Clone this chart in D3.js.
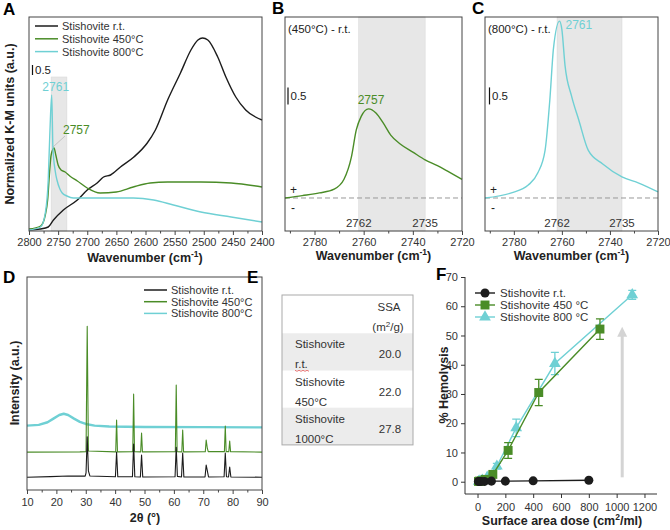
<!DOCTYPE html>
<html>
<head>
<meta charset="utf-8">
<script src="https://cdn.jsdelivr.net/npm/d3@7/dist/d3.min.js"></script>
<style>
  body { margin: 0; background: #fff; }
  svg text { font-family: "Liberation Sans", Arial, sans-serif; fill: #222; }
</style>
</head>
<body>
<svg id="fig" width="670" height="530"></svg>
<script>
// ---------- data ----------

// A: normalized K-M spectra, [wavenumber, a.u.]
var ftirRT = [[2800,0.05],[2781,0.1],[2767,0.2],[2758,0.55],[2741,1.05],[2717,1.55],[2700,2.05],[2683,2.4],[2672,2.7],[2660,2.8],[2643,3.2],[2620,3.7],[2597,4.4],[2583,5.05],[2562,6.55],[2540,7.9],[2522,9.05],[2510,9.55],[2502,9.65],[2493,9.55],[2476,8.7],[2462,7.7],[2445,6.7],[2428,6.05],[2400,5.55]];
var ftir450 = [[2800,0.1],[2780,0.25],[2772,0.8],[2768,1.55],[2765,2.8],[2762,3.8],[2757,4.15],[2754,3.8],[2750,3.3],[2745,3.05],[2738,2.95],[2730,2.75],[2717,2.5],[2700,2.15],[2678,1.9],[2650,1.95],[2621,2.2],[2592,2.4],[2562,2.45],[2505,2.45],[2453,2.4],[2400,2.2]];
var ftir800 = [[2800,0.05],[2780,0.2],[2772,0.9],[2767,2.55],[2764,5.05],[2761,6.8],[2759,4.2],[2755,3.0],[2752,2.55],[2747,2.1],[2743,1.9],[2735,1.75],[2724,1.65],[2700,1.65],[2621,1.65],[2586,1.55],[2552,1.3],[2505,0.95],[2453,0.7],[2400,0.45]];

// B, C: difference spectra, [wavenumber, a.u.]
var diff450 = [[2792,0],[2785,0.07],[2778,0.15],[2772,0.26],[2768,0.55],[2765,1.2],[2763,2.0],[2761,2.4],[2758,2.62],[2755,2.5],[2752,2.2],[2749,1.85],[2745,1.58],[2740,1.35],[2735,1.12],[2730,0.95],[2725,0.75],[2720,0.55]];
var diff800 = [[2792,0],[2781,0.15],[2774,0.38],[2770,0.74],[2767,1.4],[2765,2.9],[2763.5,4.4],[2761,5.2],[2760,4.95],[2758.7,3.9],[2756,3.0],[2753,2.3],[2749,1.4],[2743,1.0],[2735,0.62],[2728,0.44],[2720,0.18]];
var band = [2762, 2735];

// D: XRD patterns, [2theta, intensity a.u.]
var xrdRT = [[10,6.0],[18,6.3],[24,6.6],[29.8,6.5],[30.1,8],[30.5,25],[30.9,9],[31.4,6.6],[40.1,6.2],[40.5,17.8],[40.9,6.2],[45.9,6.2],[46.3,21.6],[46.7,6.2],[48.6,6.1],[49,16.4],[49.4,6.1],[60.4,6.2],[60.8,20.1],[61.2,6.4],[62.6,6.1],[63,17.4],[63.4,6.1],[70.6,6.1],[71,11.7],[71.4,9],[71.8,6.1],[77.1,6.2],[77.5,17.4],[77.9,6.2],[78.6,6.1],[79,10.8],[79.4,6.1],[90,6.0]];
var xrd450 = [[10,17.8],[28,17.9],[30.1,18],[30.5,76.9],[30.9,18.3],[40.2,17.9],[40.5,32.8],[40.8,17.9],[46,18],[46.3,45],[46.6,18],[48.7,17.9],[49,26.7],[49.3,17.9],[60.5,18],[60.8,49.3],[61.1,18],[62.7,17.9],[63,28.1],[63.3,17.9],[70.7,18],[71,23.4],[71.4,19.5],[71.7,18],[77.2,18],[77.5,30],[77.8,18],[78.7,18],[79,23],[79.3,18],[90,17.8]];
var xrd800 = [[10,30.2],[14,30.6],[17,31.8],[19,33.5],[21,35.2],[22.5,35.8],[24,35.2],[26,33.5],[28,32],[30,31],[33,30.2],[38,29.8],[50,29.6],[70,29.5],[90,29.4]];

// E: specific surface area table
var ssaNames = [['Stishovite', 'r.t.'], ['Stishovite', '450°C'], ['Stishovite', '1000°C']];
var ssaValues = ['20.0', '22.0', '27.8'];

// F: hemolysis vs surface area dose
var doseRT = [6.25, 12.5, 25, 50, 100, 200, 400, 800];
var hemRT = [0.1, 0.1, 0.1, 0.1, 0.2, 0.2, 0.3, 0.5];
var dose450 = [6.9, 13.75, 27.5, 55, 110, 220, 440, 880];
var hem450 = [0.1, 0.2, 0.3, 0.8, 2.5, 10.7, 30.5, 52.2];
var err450 = [0.1, 0.2, 0.2, 0.4, 0.8, 2.7, 4.5, 3.5];
var dose800 = [8.7, 17.4, 34.75, 69.5, 139, 278, 556, 1112];
var hem800 = [0.1, 0.2, 0.5, 1.5, 5.3, 18.4, 40.4, 63.9];
var err800 = [0.1, 0.2, 0.3, 0.6, 1.0, 3.0, 3.8, 1.5];
var arrowF = [[1040, 1.5], [1040, 53]];

var legendNames = ['Stishovite r.t.', 'Stishovite 450°C', 'Stishovite 800°C'];
var legendNamesF = ['Stishovite r.t.', 'Stishovite 450 °C', 'Stishovite 800 °C'];

// ---------- styles ----------
var BLACK = '#1c1c1c';
var GREEN = '#4a8c27';
var CYAN = '#6fd0d4';
var BAND = '#e7e7e7';
var FRAME = '#444';
var colors = [BLACK, GREEN, CYAN];

var svg = d3.select('#fig');

function panelLetter(txt, x, y) {
  svg.append('text').attr('x', x).attr('y', y)
    .attr('font-size', 17).attr('font-weight', 'bold').style('fill', '#000').text(txt);
}

function frame(x0, x1, y0, y1) {
  svg.append('rect').attr('x', x0).attr('y', y0)
    .attr('width', x1 - x0).attr('height', y1 - y0)
    .attr('fill', 'none').attr('stroke', FRAME).attr('stroke-width', 1);
}

// bottom ticks; minor ticks are shorter and unlabeled
function bottomTicks(scale, y, major, minor, padding) {
  var g = svg.append('g').attr('transform', 'translate(0,' + y + ')')
    .call(d3.axisBottom(scale).tickValues(major).tickSize(4).tickPadding(padding || 3).tickFormat(d3.format('d')));
  g.select('.domain').remove();
  g.selectAll('line').attr('stroke', FRAME);
  g.selectAll('text').attr('font-size', 11).style('fill', '#333');
  if (minor) {
    var m = svg.append('g').attr('transform', 'translate(0,' + y + ')')
      .call(d3.axisBottom(scale).tickValues(minor).tickSize(2.5).tickFormat(''));
    m.select('.domain').remove();
    m.selectAll('line').attr('stroke', FRAME);
  }
  return g;
}

function wavenumberTitle(cx, y) {
  var t = svg.append('text').attr('x', cx).attr('y', y).attr('text-anchor', 'middle')
    .attr('font-size', 12.5).attr('font-weight', 'bold');
  t.append('tspan').text('Wavenumber (cm');
  t.append('tspan').attr('dy', -5).attr('font-size', 8.5).text('-1');
  t.append('tspan').attr('dy', 5).text(')');
}

function lineLegend(x, y, step, names, width) {
  names.forEach(function(name, i) {
    svg.append('line').attr('x1', x).attr('x2', x + width)
      .attr('y1', y + i * step).attr('y2', y + i * step)
      .attr('stroke', colors[i]).attr('stroke-width', 1.5);
    svg.append('text').attr('x', x + width + 4).attr('y', y + i * step + 4)
      .attr('font-size', 11).style('fill', '#333').text(name);
  });
}

function range(a, b, s) { return d3.range(a, b + s / 2, s); }

// ---------- panel A ----------
var xA = d3.scaleLinear().domain([2800, 2400]).range([29, 262]);
var yA = d3.scaleLinear().domain([0, 10.7]).range([231, 17]);

svg.append('rect').attr('x', xA(band[0])).attr('y', yA(7.7))
  .attr('width', xA(band[1]) - xA(band[0])).attr('height', yA(0) - yA(7.7))
  .attr('fill', BAND).attr('stroke', '#d9d9d9').attr('stroke-width', 0.6);

var lineA = d3.line().x(function(d) { return xA(d[0]); }).y(function(d) { return yA(d[1]); })
  .curve(d3.curveMonotoneX);
[ftirRT, ftir450, ftir800].forEach(function(s, i) {
  svg.append('path').datum(s).attr('d', lineA)
    .attr('fill', 'none').attr('stroke', colors[i]).attr('stroke-width', 1.4);
});

frame(29, 262, 17, 231);
bottomTicks(xA, 231, range(2400, 2800, 50), range(2425, 2775, 50));
wavenumberTitle(145, 262);
svg.append('text').attr('transform', 'translate(14,124) rotate(-90)')
  .attr('text-anchor', 'middle').attr('font-size', 12.5).attr('font-weight', 'bold')
  .text('Normalized K-M units (a.u.)');

// scale bar 0.5
svg.append('line').attr('x1', 32.5).attr('x2', 32.5).attr('y1', yA(7.8)).attr('y2', yA(8.3))
  .attr('stroke', '#111').attr('stroke-width', 1.2);
svg.append('text').attr('x', 35).attr('y', yA(8.05) + 4).attr('font-size', 11.5).text('0.5');

// peak labels
svg.append('text').attr('x', xA(2761) + 4).attr('y', yA(6.8) - 4).attr('text-anchor', 'middle')
  .attr('font-size', 12).style('fill', CYAN).text('2761');
svg.append('line').attr('x1', xA(2757) - 1).attr('y1', yA(4.15) - 1).attr('x2', 65).attr('y2', 136)
  .attr('stroke', '#aaa').attr('stroke-width', 0.6);
svg.append('text').attr('x', 63).attr('y', 134)
  .attr('font-size', 12).style('fill', GREEN).text('2757');

lineLegend(35, 26, 12.8, legendNames, 23);
panelLetter('A', 3, 15);

// ---------- panels B and C ----------
function diffPanel(x0, x1, data, color, title, peakLabel, letter, barX) {
  var x = d3.scaleLinear().domain([2792, 2720]).range([x0, x1]);
  var y = d3.scaleLinear().domain([-0.97, 5.32]).range([231, 17]);

  svg.append('rect').attr('x', x(band[0])).attr('y', 17)
    .attr('width', x(band[1]) - x(band[0])).attr('height', 214)
    .attr('fill', BAND).attr('stroke', '#d9d9d9').attr('stroke-width', 0.6);

  svg.append('line').attr('x1', x0).attr('x2', x1).attr('y1', y(0)).attr('y2', y(0))
    .attr('stroke', '#999').attr('stroke-width', 1).attr('stroke-dasharray', '5,3');

  var line = d3.line().x(function(d) { return x(d[0]); }).y(function(d) { return y(d[1]); })
    .curve(d3.curveMonotoneX);
  svg.append('path').datum(data).attr('d', line)
    .attr('fill', 'none').attr('stroke', color).attr('stroke-width', 1.4);

  frame(x0, x1, 17, 231);
  bottomTicks(x, 231, range(2720, 2780, 20), range(2730, 2790, 20));
  wavenumberTitle((x0 + x1) / 2, 260);

  svg.append('text').attr('x', x0 + 3).attr('y', 33).attr('font-size', 11.5).text(title);
  svg.append('text').attr('x', x0 + 5).attr('y', y(0) - 4).attr('font-size', 12).text('+');
  svg.append('text').attr('x', x0 + 6).attr('y', y(0) + 14).attr('font-size', 12).text('-');
  band.forEach(function(b) {
    svg.append('text').attr('x', x(b)).attr('y', 227).attr('text-anchor', 'middle')
      .attr('font-size', 11.5).style('fill', '#333').text(b);
  });

  // scale bar 0.5
  svg.append('line').attr('x1', barX).attr('x2', barX).attr('y1', y(2.75)).attr('y2', y(3.25))
    .attr('stroke', '#111').attr('stroke-width', 1.2);
  svg.append('text').attr('x', barX + 2.5).attr('y', y(3.0) + 4).attr('font-size', 11.5).text('0.5');

  peakLabel(x, y);
  panelLetter(letter, x0 - 13, 14);
}

diffPanel(285, 462, diff450, GREEN, '(450°C) - r.t.', function(x, y) {
  svg.append('text').attr('x', x(2757)).attr('y', y(2.62) - 5).attr('text-anchor', 'middle')
    .attr('font-size', 12).style('fill', GREEN).text('2757');
}, 'B', 288);

diffPanel(485, 658, diff800, CYAN, '(800°C) - r.t.', function(x, y) {
  svg.append('text').attr('x', x(2761) + 6).attr('y', y(5.2) + 8)
    .attr('font-size', 12).style('fill', CYAN).text('2761');
}, 'C', 489.5);

// ---------- panel D ----------
var xD = d3.scaleLinear().domain([10, 90]).range([27, 262]);
var yD = d3.scaleLinear().domain([0, 100]).range([490, 277]);
var lineD = d3.line().x(function(d) { return xD(d[0]); }).y(function(d) { return yD(d[1]); });

[[xrd800, CYAN, 2.4], [xrd450, GREEN, 1.1], [xrdRT, BLACK, 1.1]].forEach(function(s) {
  svg.append('path').datum(s[0]).attr('d', lineD)
    .attr('fill', 'none').attr('stroke', s[1]).attr('stroke-width', s[2]).attr('stroke-linejoin', 'round');
});

frame(27, 262, 277, 490);
bottomTicks(xD, 490, range(10, 90, 10), range(15, 85, 10), 4);
svg.append('text').attr('x', 145).attr('y', 522).attr('text-anchor', 'middle')
  .attr('font-size', 12.5).attr('font-weight', 'bold').text('2θ (°)');
svg.append('text').attr('transform', 'translate(19,383) rotate(-90)')
  .attr('text-anchor', 'middle').attr('font-size', 12.5).attr('font-weight', 'bold')
  .text('Intensity (a.u.)');
lineLegend(144, 290, 11.7, legendNames, 23);
panelLetter('D', 3, 283);

// ---------- panel E ----------
var tx0 = 282, tx1 = 413, ty0 = 295, rowH = 37.2, headH = 38.3;
ssaValues.forEach(function(v, i) {
  var top = ty0 + headH + i * rowH;
  if (i % 2 === 0) {
    svg.append('rect').attr('x', tx0).attr('y', top).attr('width', tx1 - tx0).attr('height', rowH)
      .attr('fill', '#ececec');
  }
  svg.append('text').attr('x', 295).attr('y', top + 15).attr('font-size', 11.5).style('fill', '#333').text(ssaNames[i][0]);
  svg.append('text').attr('x', 295).attr('y', top + 35).attr('font-size', 11.5).style('fill', '#333').text(ssaNames[i][1]);
  svg.append('text').attr('x', 390).attr('y', top + 25).attr('text-anchor', 'middle')
    .attr('font-size', 11.5).style('fill', '#333').text(v);
});
// spell-check squiggle under "r.t."
svg.append('path')
  .attr('d', d3.line()(d3.range(0, 8).map(function(i) { return [295 + i * 2, ty0 + headH + 37 + (i % 2)]; })))
  .attr('fill', 'none').attr('stroke', '#e04040').attr('stroke-width', 0.7);
svg.append('rect').attr('x', tx0).attr('y', ty0).attr('width', tx1 - tx0)
  .attr('height', headH + 3 * rowH).attr('fill', 'none').attr('stroke', '#aaa').attr('stroke-width', 1);
svg.append('text').attr('x', 389).attr('y', 311).attr('text-anchor', 'middle')
  .attr('font-size', 11.5).style('fill', '#333').text('SSA');
var unit = svg.append('text').attr('x', 388).attr('y', 331).attr('text-anchor', 'middle')
  .attr('font-size', 11.5).style('fill', '#333');
unit.append('tspan').text('(m');
unit.append('tspan').attr('dy', -4).attr('font-size', 8).text('2');
unit.append('tspan').attr('dy', 4).text('/g)');
panelLetter('E', 247, 283);

// ---------- panel F ----------
var xF = d3.scaleLinear().domain([-90, 1290]).range([465, 657]);
var yF = d3.scaleLinear().domain([-4.2, 70]).range([494, 277]);

// grey arrow
var ax = xF(arrowF[0][0]), ay0 = yF(arrowF[0][1]), ay1 = yF(arrowF[1][1]);
svg.append('line').attr('x1', ax).attr('x2', ax).attr('y1', ay0).attr('y2', ay1 + 9)
  .attr('stroke', '#d4d4d4').attr('stroke-width', 3);
svg.append('path')
  .attr('d', 'M' + (ax - 5) + ',' + (ay1 + 10) + 'L' + ax + ',' + ay1 + 'L' + (ax + 5) + ',' + (ay1 + 10) + 'Z')
  .attr('fill', '#d4d4d4');

var gx = svg.append('g').attr('transform', 'translate(0,494)')
  .call(d3.axisBottom(xF).tickValues(range(0, 1200, 200)).tickSize(4).tickPadding(5).tickFormat(d3.format('d')));
var gy = svg.append('g').attr('transform', 'translate(465,0)')
  .call(d3.axisLeft(yF).tickValues(range(0, 70, 10)).tickSize(4).tickPadding(3).tickFormat(d3.format('d')));
[gx, gy].forEach(function(g) {
  g.select('.domain').remove();
  g.selectAll('line').attr('stroke', '#333');
  g.selectAll('text').attr('font-size', 11).style('fill', '#333');
});
svg.append('line').attr('x1', 465).attr('x2', 657).attr('y1', 494).attr('y2', 494).attr('stroke', '#333');
svg.append('line').attr('x1', 465).attr('x2', 465).attr('y1', 277).attr('y2', 494).attr('stroke', '#333');

var seriesF = [
  { x: dose800, y: hem800, e: err800, color: CYAN, shape: d3.symbolTriangle, size: 60 },
  { x: dose450, y: hem450, e: err450, color: GREEN, shape: d3.symbolSquare, size: 80 },
  { x: doseRT, y: hemRT, e: null, color: BLACK, shape: d3.symbolCircle, size: 64 }
];
seriesF.forEach(function(s) {
  var pts = s.x.map(function(v, i) { return [v, s.y[i], s.e ? s.e[i] : 0]; });
  svg.append('path').datum(pts)
    .attr('d', d3.line().x(function(d) { return xF(d[0]); }).y(function(d) { return yF(d[1]); }))
    .attr('fill', 'none').attr('stroke', s.color).attr('stroke-width', 1.4);
  if (s.e) {
    pts.forEach(function(d) {
      var px = xF(d[0]), hi = yF(d[1] + d[2]), lo = yF(d[1] - d[2]);
      svg.append('path').attr('d', 'M' + px + ',' + hi + 'V' + lo +
          'M' + (px - 4) + ',' + hi + 'H' + (px + 4) + 'M' + (px - 4) + ',' + lo + 'H' + (px + 4))
        .attr('stroke', s.color).attr('stroke-width', 1.3).attr('fill', 'none');
    });
  }
  svg.selectAll(null).data(pts).enter().append('path')
    .attr('transform', function(d) { return 'translate(' + xF(d[0]) + ',' + yF(d[1]) + ')'; })
    .attr('d', d3.symbol().type(s.shape).size(s.size))
    .attr('fill', s.color);
});

// legend F
var legF = [[BLACK, d3.symbolCircle, 64], [GREEN, d3.symbolSquare, 80], [CYAN, d3.symbolTriangle, 60]];
legF.forEach(function(l, i) {
  var y = 293 + i * 12;
  svg.append('line').attr('x1', 475).attr('x2', 495).attr('y1', y).attr('y2', y)
    .attr('stroke', l[0]).attr('stroke-width', 1.4);
  svg.append('path').attr('transform', 'translate(485,' + y + ')')
    .attr('d', d3.symbol().type(l[1]).size(l[2])).attr('fill', l[0]);
  svg.append('text').attr('x', 500).attr('y', y + 4).attr('font-size', 11.5).style('fill', '#333').text(legendNamesF[i]);
});

var xt = svg.append('text').attr('x', 562).attr('y', 525).attr('text-anchor', 'middle')
  .attr('font-size', 12.5).attr('font-weight', 'bold');
xt.append('tspan').text('Surface area dose (cm');
xt.append('tspan').attr('dy', -5).attr('font-size', 8.5).text('2');
xt.append('tspan').attr('dy', 5).text('/ml)');
svg.append('text').attr('transform', 'translate(448,385) rotate(-90)')
  .attr('text-anchor', 'middle').attr('font-size', 12.5).attr('font-weight', 'bold')
  .text('% Hemolysis');
panelLetter('F', 436, 280);
</script>
</body>
</html>
